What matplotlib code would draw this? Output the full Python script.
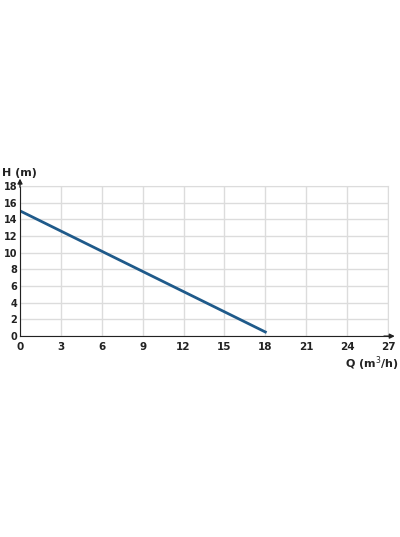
import matplotlib
matplotlib.use("Agg")
import matplotlib.pyplot as plt

q = [0, 18]
h = [15, 0.5]
xticks = [0, 3, 6, 9, 12, 15, 18, 21, 24, 27]
yticks = [0, 2, 4, 6, 8, 10, 12, 14, 16, 18]

fig = plt.figure(figsize=(4, 5.37), dpi=100)
ax = fig.add_axes([0.05, 0.374, 0.92, 0.28])
ax.set_xlim(0, 27)
ax.set_ylim(0, 18)
ax.set_xticks(xticks)
ax.set_yticks(yticks)
ax.grid(True, color="#dcdcdc", lw=1)
for s in ["top", "right"]:
    ax.spines[s].set_color("#dcdcdc")
for s in ["left", "bottom"]:
    ax.spines[s].set_color("#222222")
ax.tick_params(axis="x", length=0, labelsize=7.5, pad=4)
ax.tick_params(axis="y", length=0, labelsize=7, pad=2)
for lab in ax.get_xticklabels() + ax.get_yticklabels():
    lab.set_fontweight("bold")
    lab.set_color("#222222")
ax.plot(q, h, color="#1f5a8a", lw=2)
ax.annotate("", xy=(0, 19.2), xytext=(0, 17.5), annotation_clip=False,
            arrowprops=dict(arrowstyle="-|>", color="#222222", lw=1, mutation_scale=7))
ax.annotate("", xy=(27.7, 0), xytext=(26.5, 0), annotation_clip=False,
            arrowprops=dict(arrowstyle="-|>", color="#222222", lw=1, mutation_scale=7))
fig.text(0.005, 0.672, "H (m)", fontsize=8, fontweight="bold", color="#222222")
fig.text(0.995, 0.316, "Q (m$^3$/h)", fontsize=8, fontweight="bold", color="#222222", ha="right")
fig.savefig("out.png", dpi=100)
